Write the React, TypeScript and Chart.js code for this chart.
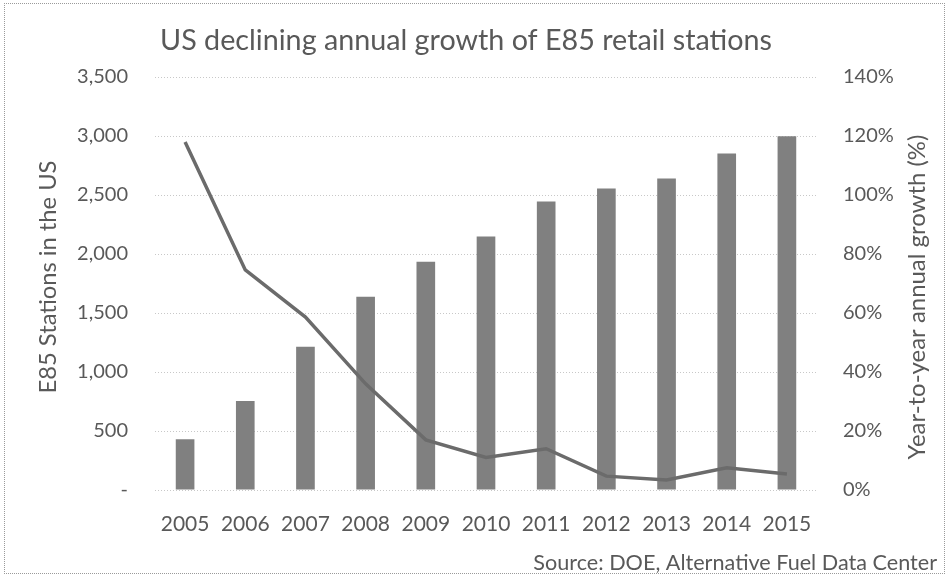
import React, { useEffect, useRef } from "react";
import { Chart, registerables } from "chart.js";

Chart.register(...registerables);

const years = ["2005", "2006", "2007", "2008", "2009", "2010", "2011", "2012", "2013", "2014", "2015"];
const stations = [430, 755, 1214, 1638, 1935, 2148, 2445, 2555, 2640, 2852, 2997];
const growthPct = [118, 74.6, 58.6, 36, 17, 11, 14, 4.7, 3.4, 7.5, 5.4];

const titleText = "US declining annual growth of E85 retail stations";
const leftAxisTitle = "E85 Stations in the US";
const rightAxisTitle = "Year-to-year annual growth (%)";
const sourceText = "Source: DOE, Alternative Fuel Data Center";

const TEXT = "#595959";
const FONT = "Lato, 'Open Sans', sans-serif";

function fitText(ctx: CanvasRenderingContext2D, text: string, target: number, base: number) {
  ctx.font = `${base}px ${FONT}`;
  const w = ctx.measureText(text).width;
  const size = (base * target) / w;
  ctx.font = `${size}px ${FONT}`;
}

const decor = {
  id: "decor",
  afterDraw(chart: any) {
    const ctx = chart.ctx as CanvasRenderingContext2D;
    ctx.save();
    ctx.fillStyle = TEXT;
    ctx.textAlign = "center";
    ctx.textBaseline = "middle";
    fitText(ctx, titleText, 612, 26);
    ctx.fillText(titleText, 466, 41);

    fitText(ctx, sourceText, 404, 19);
    ctx.textAlign = "right";
    ctx.fillText(sourceText, 937, 563);

    ctx.textAlign = "center";
    ctx.save();
    ctx.translate(48, 277);
    ctx.rotate(-Math.PI / 2);
    fitText(ctx, leftAxisTitle, 233, 19);
    ctx.fillText(leftAxisTitle, 0, 0);
    ctx.restore();

    ctx.save();
    ctx.translate(917, 297);
    ctx.rotate(-Math.PI / 2);
    fitText(ctx, rightAxisTitle, 325, 19);
    ctx.fillText(rightAxisTitle, 0, 0);
    ctx.restore();
    ctx.restore();
  },
};

export default function App() {
  const ref = useRef<HTMLCanvasElement | null>(null);
  useEffect(() => {
    if (!ref.current) return;
    const chart = new Chart(ref.current, {
      type: "bar",
      data: {
        labels: years,
        datasets: [
          {
            type: "line",
            label: "Growth",
            data: growthPct,
            yAxisID: "y1",
            borderColor: "#6b6b6b",
            borderWidth: 3.5,
            pointRadius: 0,
            tension: 0,
            order: 0,
          } as any,
          {
            type: "bar",
            label: "Stations",
            data: stations,
            yAxisID: "y",
            backgroundColor: "#808080",
            categoryPercentage: 1,
            barPercentage: 0.31,
            order: 1,
          },
        ],
      },
      options: {
        animation: false,
        responsive: false,
        maintainAspectRatio: false,
        layout: { padding: { top: 77, left: 0, right: 0, bottom: 0 } },
        plugins: {
          legend: { display: false },
          tooltip: { enabled: false },
          title: { display: false },
        },
        scales: {
          x: {
            grid: { display: false, drawTicks: false },
            border: { display: false },
            ticks: { color: TEXT, font: { family: FONT, size: 21 }, padding: 22, maxRotation: 0 },
            afterFit(scale: any) {
              scale.height = 88;
            },
          },
          y: {
            position: "left",
            min: 0,
            max: 3500,
            grid: { color: "#c8c8c8", drawTicks: false, lineWidth: 1 },
            border: { display: false, dash: [1, 2] },
            ticks: {
              stepSize: 500,
              color: TEXT,
              font: { family: FONT, size: 20 },
              padding: 27,
              callback: (v: any) => (v === 0 ? "-" : Number(v).toLocaleString("en-US")),
            },
            afterFit(scale: any) {
              scale.width = 155;
            },
          },
          y1: {
            position: "right",
            min: 0,
            max: 140,
            grid: { display: false, drawTicks: false },
            border: { display: false },
            ticks: {
              stepSize: 20,
              color: TEXT,
              font: { family: FONT, size: 20 },
              padding: 26,
              callback: (v: any) => `${v}%`,
            },
            afterFit(scale: any) {
              scale.width = 132;
            },
          },
        },
      },
      plugins: [decor],
    });
    return () => chart.destroy();
  }, []);
  return (
    <div
      style={{
        position: "fixed",
        left: 0,
        top: 0,
        width: 949,
        height: 578,
        background: "#fff",
      }}
    >
      <div
        style={{
          position: "absolute",
          left: 4,
          top: 3,
          width: 941,
          height: 571,
          border: "1px dotted #9a9a9a",
          boxSizing: "border-box",
        }}
      />
      <canvas ref={ref} width={949} height={578} style={{ position: "absolute", left: 0, top: 0 }} />
    </div>
  );
}
